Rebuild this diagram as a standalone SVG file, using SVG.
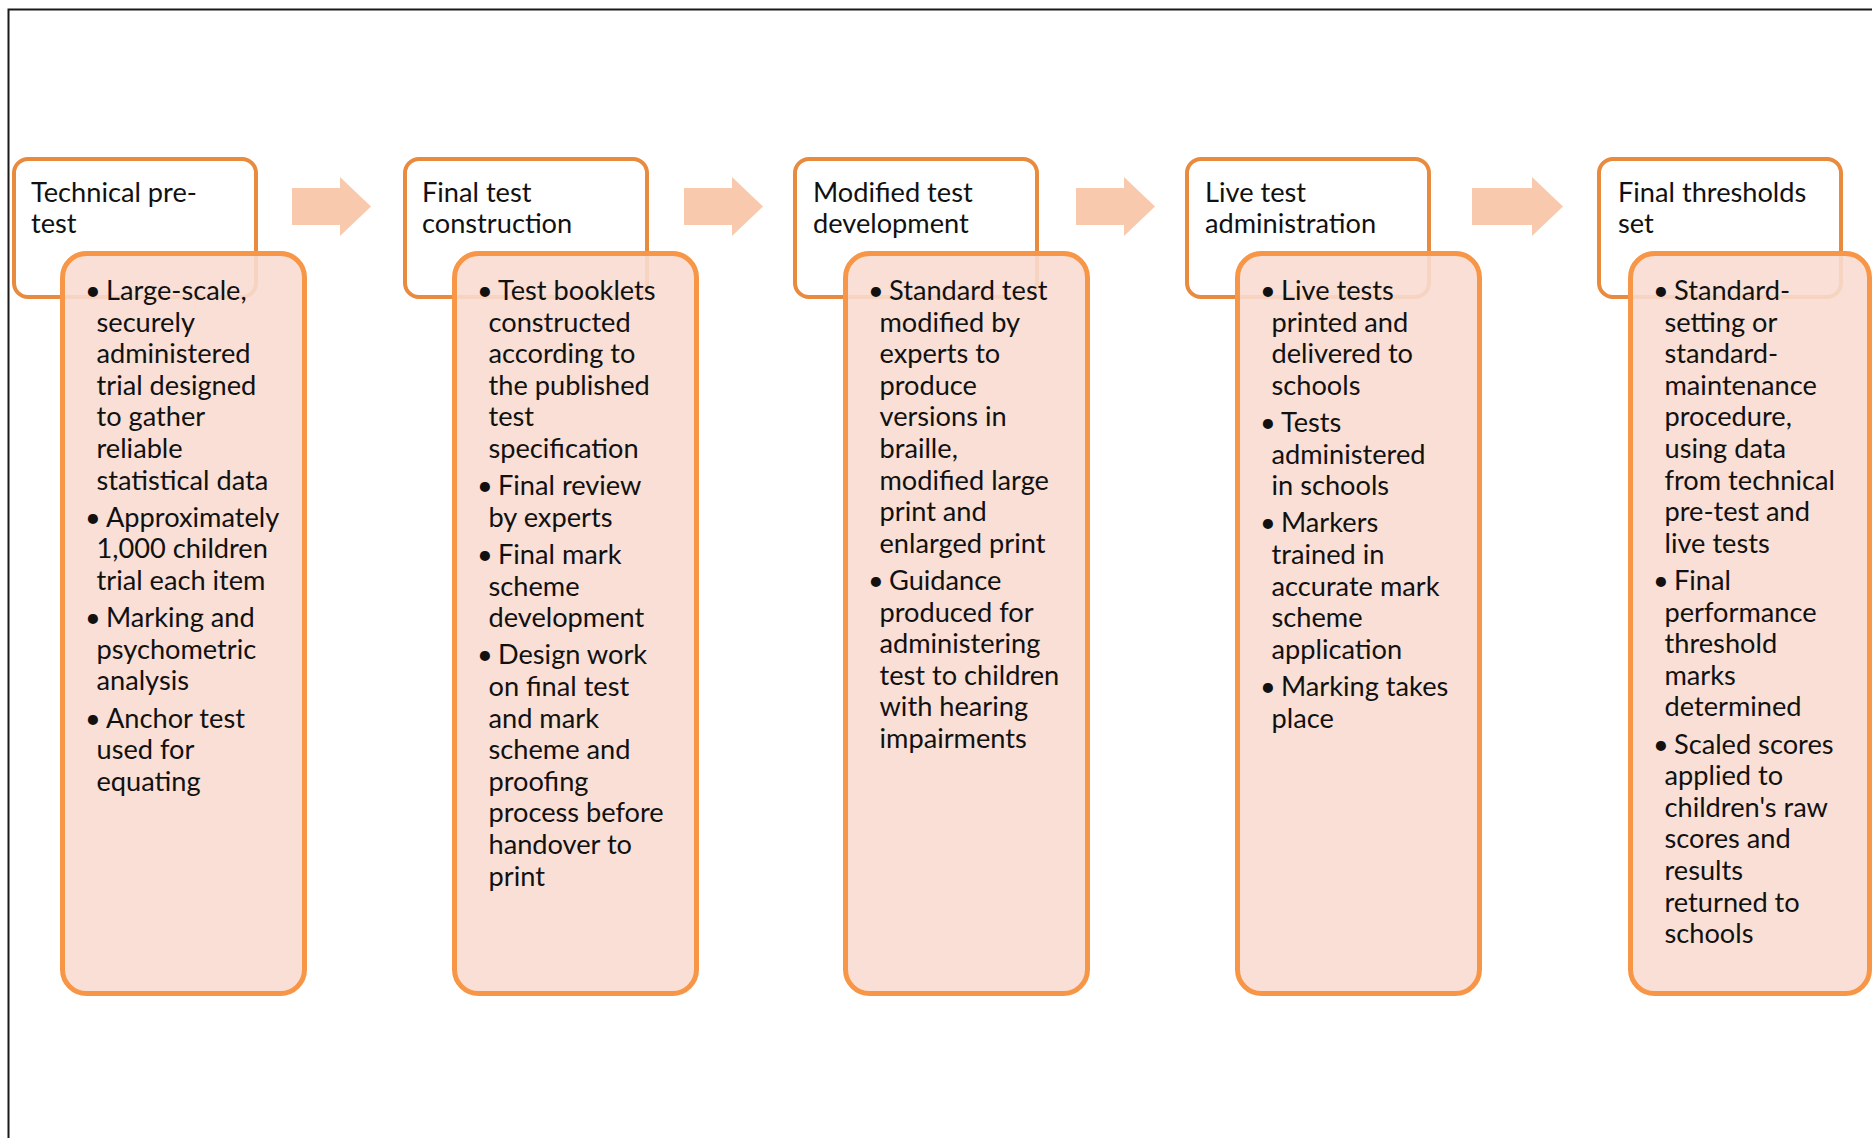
<svg xmlns="http://www.w3.org/2000/svg" width="1872" height="1138" viewBox="0 0 1872 1138">
<style>
.hdr{fill:#fff;stroke:#E98B3E;stroke-width:4}
.body{fill:#F8DBD0;fill-opacity:0.9;stroke:#F79646;stroke-width:5}
.arrow{fill:#F9C9AE}
text{font-family:Lato,"Open Sans","Liberation Sans",sans-serif;font-size:27.2px;fill:#111}
</style>
<rect width="1872" height="1138" fill="#fff"/>
<path d="M8.5 1138 V9.5 H1872" fill="none" stroke="#1a1a1a" stroke-width="2"/>

<g id="connectors">
<path class="arrow" d="M292 188 H340 V177 L371 206.5 L340 236 V225 H292 Z"/>
<path class="arrow" d="M684 188 H732 V177 L763 206.5 L732 236 V225 H684 Z"/>
<path class="arrow" d="M1076 188 H1124 V177 L1155 206.5 L1124 236 V225 H1076 Z"/>
<path class="arrow" d="M1472 188 H1532 V177 L1563 206.5 L1532 236 V225 H1472 Z"/>
</g>

<g id="node1">
<rect class="hdr" x="14" y="159" width="242" height="138" rx="14"/>
<text x="31" y="202">Technical pre-</text>
<text x="31" y="233">test</text>
<rect class="body" x="62.5" y="253.5" width="242" height="740" rx="24"/>
<text x="85" y="300">•</text><text x="106" y="300">Large-scale,</text>
<text x="96.5" y="331.6">securely</text>
<text x="96.5" y="363.2">administered</text>
<text x="96.5" y="394.8">trial designed</text>
<text x="96.5" y="426.4">to gather</text>
<text x="96.5" y="458">reliable</text>
<text x="96.5" y="489.6">statistical data</text>
<text x="85" y="526.8">•</text><text x="106" y="526.8">Approximately</text>
<text x="96.5" y="558.4">1,000 children</text>
<text x="96.5" y="590">trial each item</text>
<text x="85" y="627.2">•</text><text x="106" y="627.2">Marking and</text>
<text x="96.5" y="658.8">psychometric</text>
<text x="96.5" y="690.4">analysis</text>
<text x="85" y="727.6">•</text><text x="106" y="727.6">Anchor test</text>
<text x="96.5" y="759.2">used for</text>
<text x="96.5" y="790.8">equating</text>
</g>

<g id="node2">
<rect class="hdr" x="405" y="159" width="242" height="138" rx="14"/>
<text x="422" y="202">Final test</text>
<text x="422" y="233">construction</text>
<rect class="body" x="454.5" y="253.5" width="242" height="740" rx="24"/>
<text x="477" y="300">•</text><text x="498" y="300">Test booklets</text>
<text x="488.5" y="331.6">constructed</text>
<text x="488.5" y="363.2">according to</text>
<text x="488.5" y="394.8">the published</text>
<text x="488.5" y="426.4">test</text>
<text x="488.5" y="458">specification</text>
<text x="477" y="495.2">•</text><text x="498" y="495.2">Final review</text>
<text x="488.5" y="526.8">by experts</text>
<text x="477" y="564">•</text><text x="498" y="564">Final mark</text>
<text x="488.5" y="595.6">scheme</text>
<text x="488.5" y="627.2">development</text>
<text x="477" y="664.4">•</text><text x="498" y="664.4">Design work</text>
<text x="488.5" y="696">on final test</text>
<text x="488.5" y="727.6">and mark</text>
<text x="488.5" y="759.2">scheme and</text>
<text x="488.5" y="790.8">proofing</text>
<text x="488.5" y="822.4">process before</text>
<text x="488.5" y="854">handover to</text>
<text x="488.5" y="885.6">print</text>
</g>

<g id="node3">
<rect class="hdr" x="795" y="159" width="242" height="138" rx="14"/>
<text x="813" y="202">Modified test</text>
<text x="813" y="233">development</text>
<rect class="body" x="845.5" y="253.5" width="242" height="740" rx="24"/>
<text x="868" y="300">•</text><text x="889" y="300">Standard test</text>
<text x="879.5" y="331.6">modified by</text>
<text x="879.5" y="363.2">experts to</text>
<text x="879.5" y="394.8">produce</text>
<text x="879.5" y="426.4">versions in</text>
<text x="879.5" y="458">braille,</text>
<text x="879.5" y="489.6">modified large</text>
<text x="879.5" y="521.2">print and</text>
<text x="879.5" y="552.8">enlarged print</text>
<text x="868" y="590">•</text><text x="889" y="590">Guidance</text>
<text x="879.5" y="621.6">produced for</text>
<text x="879.5" y="653.2">administering</text>
<text x="879.5" y="684.8">test to children</text>
<text x="879.5" y="716.4">with hearing</text>
<text x="879.5" y="748">impairments</text>
</g>

<g id="node4">
<rect class="hdr" x="1187" y="159" width="242" height="138" rx="14"/>
<text x="1205" y="202">Live test</text>
<text x="1205" y="233">administration</text>
<rect class="body" x="1237.5" y="253.5" width="242" height="740" rx="24"/>
<text x="1260" y="300">•</text><text x="1281" y="300">Live tests</text>
<text x="1271.5" y="331.6">printed and</text>
<text x="1271.5" y="363.2">delivered to</text>
<text x="1271.5" y="394.8">schools</text>
<text x="1260" y="432">•</text><text x="1281" y="432">Tests</text>
<text x="1271.5" y="463.6">administered</text>
<text x="1271.5" y="495.2">in schools</text>
<text x="1260" y="532.4">•</text><text x="1281" y="532.4">Markers</text>
<text x="1271.5" y="564">trained in</text>
<text x="1271.5" y="595.6">accurate mark</text>
<text x="1271.5" y="627.2">scheme</text>
<text x="1271.5" y="658.8">application</text>
<text x="1260" y="696">•</text><text x="1281" y="696">Marking takes</text>
<text x="1271.5" y="727.6">place</text>
</g>

<g id="node5">
<rect class="hdr" x="1599" y="159" width="242" height="138" rx="14"/>
<text x="1618" y="202">Final thresholds</text>
<text x="1618" y="233">set</text>
<rect class="body" x="1630.5" y="253.5" width="239" height="740" rx="24"/>
<text x="1653" y="300">•</text><text x="1674" y="300">Standard-</text>
<text x="1664.5" y="331.6">setting or</text>
<text x="1664.5" y="363.2">standard-</text>
<text x="1664.5" y="394.8">maintenance</text>
<text x="1664.5" y="426.4">procedure,</text>
<text x="1664.5" y="458">using data</text>
<text x="1664.5" y="489.6">from technical</text>
<text x="1664.5" y="521.2">pre-test and</text>
<text x="1664.5" y="552.8">live tests</text>
<text x="1653" y="590">•</text><text x="1674" y="590">Final</text>
<text x="1664.5" y="621.6">performance</text>
<text x="1664.5" y="653.2">threshold</text>
<text x="1664.5" y="684.8">marks</text>
<text x="1664.5" y="716.4">determined</text>
<text x="1653" y="753.6">•</text><text x="1674" y="753.6">Scaled scores</text>
<text x="1664.5" y="785.2">applied to</text>
<text x="1664.5" y="816.8">children's raw</text>
<text x="1664.5" y="848.4">scores and</text>
<text x="1664.5" y="880">results</text>
<text x="1664.5" y="911.6">returned to</text>
<text x="1664.5" y="943.2">schools</text>
</g>
</svg>
